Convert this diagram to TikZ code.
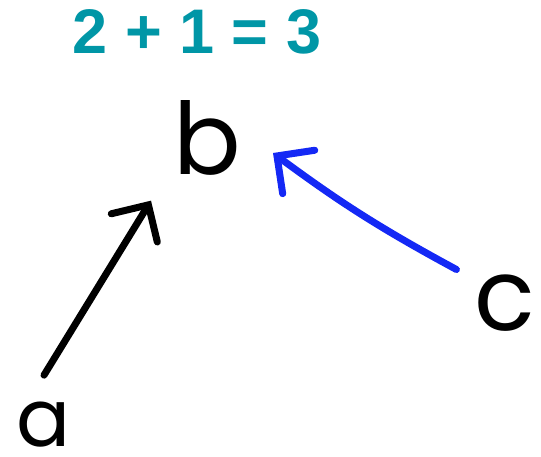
\documentclass[tikz,border=0pt]{standalone}
\usepackage{fontspec}
\setmainfont{Liberation Sans}
\newfontfamily\handfont{Poppins}
\usepackage{tikz}
\usetikzlibrary{arrows.meta}
\definecolor{sumteal}{RGB}{0,150,166}
\definecolor{penblue}{RGB}{20,40,245}

\begin{document}
\begin{tikzpicture}[x=1pt,y=-1pt,
  letter/.style={inner sep=0pt,font=\handfont\fontsize{#1}{#1}\selectfont},
  pen/.style={line width=7pt,line cap=round,-{Straight Barb[length=27pt,width=54pt,line cap=round]}}]
\useasboundingbox (0,0) rectangle (541,456);
\node[font=\bfseries\fontsize{63}{63}\selectfont,text=sumteal] (sum) at (197,32) {2 + 1 = 3};
\node[letter=100] (b) at (207,138) {b};
\node[letter=80] (a) at (44,425) {a};
\node[letter=100] (c) at (505,303) {c};
\draw[pen] ([yshift=27pt]a.north) -- ([xshift=-22pt,yshift=-25pt]b.south west);
\draw[pen,penblue] ([xshift=-18pt,yshift=5pt]c.north west) to[bend left=4] ([xshift=32pt,yshift=-15pt]b.east);
\end{tikzpicture}
\end{document}
